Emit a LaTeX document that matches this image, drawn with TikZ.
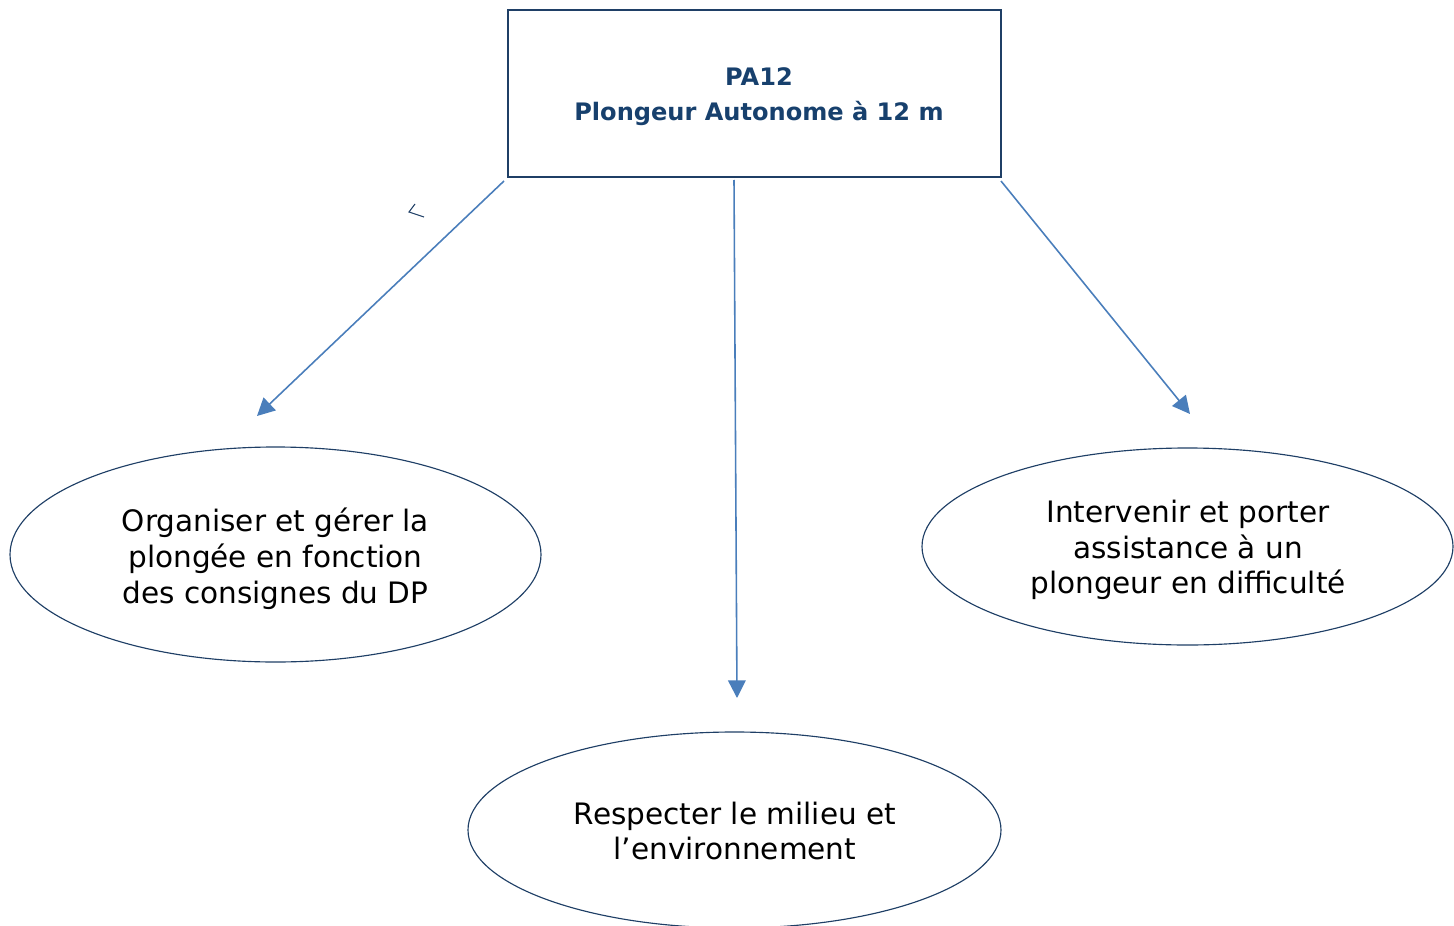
\documentclass[tikz,border=0pt]{standalone}
\usepackage{fontspec}
\setmainfont{DejaVu Sans}
\usetikzlibrary{shapes.geometric,arrows.meta}
\definecolor{navy}{HTML}{1F3F66}
\definecolor{arrowblue}{HTML}{4A7EBB}
\definecolor{titleblue}{HTML}{17406D}
\begin{document}
\begin{tikzpicture}[x=0.02cm,y=-0.02cm,
  topbox/.style={draw=navy,line width=0.6pt,minimum width=493*0.02cm,minimum height=167*0.02cm,inner sep=0pt},
  toptxt/.style={text=titleblue,font=\fontsize{13.7}{19.8}\selectfont\bfseries,align=center},
  goal/.style={ellipse,draw=navy,line width=0.65pt,inner sep=0pt},
  goaltxt/.style={font=\fontsize{16.8}{20.4}\selectfont,align=center},
  link/.style={draw=arrowblue,line width=0.9pt,-{Triangle[length=10pt,width=10pt]}}]
\useasboundingbox (0,0) rectangle (1454,926);
\clip (0,0) rectangle (1454,926);
\node[topbox] (top) at (754.5,93.5) {};
\node[toptxt] (toptext) at (759,97) {PA12\\Plongeur Autonome à 12 m};
\node[goal,minimum width=531*0.02cm,minimum height=215*0.02cm] (left) at (275.5,554.5) {};
\node[goaltxt] (lefttext) at (275.5,558.5) {Organiser et gérer la\\plongée en fonction\\des consignes du DP};
\node[goal,minimum width=531*0.02cm,minimum height=197*0.02cm] (right) at (1187.5,546.5) {};
\node[goaltxt] (righttext) at (1188,550) {Intervenir et porter\\assistance à un\\plongeur en difficulté};
\node[goal,minimum width=533*0.02cm,minimum height=196*0.02cm] (bottom) at (734.5,830) {};
\node[goaltxt] (bottomtext) at (735,831) {Respecter le milieu et\\l’environnement};
\coordinate (lstart) at (504,181);
\coordinate (lend) at (257,416);
\coordinate (mstart) at (734,180);
\coordinate (mend) at (737,698);
\coordinate (rstart) at (1001,181);
\coordinate (rend) at (1190,414);
\draw[link] (lstart) -- (lend);
\draw[link] (mstart) -- (mend);
\draw[link] (rstart) -- (rend);
\coordinate (m1) at (415,204);
\coordinate (m2) at (409,212);
\coordinate (m3) at (424,217);
\draw[navy,line width=0.6pt] (m1) -- (m2) -- (m3);
\end{tikzpicture}
\end{document}
